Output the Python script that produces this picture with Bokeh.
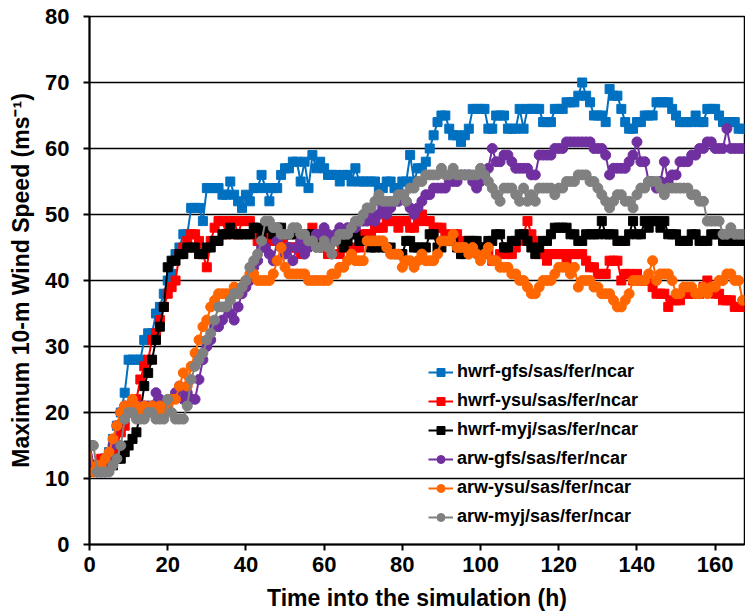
from bokeh.plotting import figure
from bokeh.models import Range1d, FixedTicker, Legend, LegendItem, ColumnDataSource
from bokeh.embed import file_html
from bokeh.resources import INLINE

hours = list(range(168))

hwrf_gfs = [15,12,12,12,13,14,16,18,20,23, 28,28,28,28,31,32,32,35,36,38,
            40,41,44,45,47,47,51,51,51,49, 54,54,54,54,53,53,55,53,52,51,
            53,52,54,54,56,54,52,54,54,56, 57,57,58,58,55,58,54,59,57,58,
            57,56,56,56,55,56,56,55,57,55, 55,55,55,55,54,54,55,55,54,54,
            55,55,59,55,57,57,58,60,62,64, 65,65,63,62,62,61,62,63,66,66,
            66,66,63,63,65,65,65,63,63,63, 66,63,66,66,66,66,64,64,64,66,
            66,66,67,67,67,68,70,68,67,65, 65,65,64,69,68,68,66,64,63,63,
            64,64,65,65,65,67,67,67,67,66, 65,64,64,64,64,65,64,64,66,66,
            66,65,64,64,64,64,63,63]

hwrf_ysu = [15,12,12,13,13,13,14,15,17,18, 20,21,22,25,27,28,31,32,34,36,
            38,39,40,44,45,46,47,47,46,44, 42,46,48,49,49,47,49,49,47,49,
            49,49,47,46,47,47,46,47,46,46, 47,45,45,45,44,46,47,48,47,46,
            45,44,46,46,44,46,45,44,45,45, 47,47,47,48,48,48,49,49,49,48,
            49,49,48,48,49,50,49,49,48,48, 48,47,46,47,47,46,45,46,45,45,
            45,44,44,43,43,44,45,44,44,45, 46,47,49,47,46,44,44,43,44,44,
            44,44,43,44,44,44,44,43,42,42, 41,41,41,43,43,43,40,41,41,40,
            41,40,40,40,39,38,38,38,36,37, 37,37,38,38,38,38,38,39,40,39,
            38,38,37,37,37,36,36,36]

hwrf_myj = [15,11,11,11,11,12,12,13,13,14, 15,16,17,20,24,26,28,31,33,36,
            42,43,43,44,44,45,45,45,44,44, 45,45,46,46,47,47,48,47,47,47,
            47,47,48,48,47,48,48,47,48,48, 47,47,47,47,47,47,46,47,46,47,
            46,46,46,46,46,45,46,47,47,46, 46,46,45,45,46,45,45,45,44,44,
            44,46,46,45,45,45,45,47,47,45, 45,46,46,46,45,44,44,46,46,46,
            45,45,46,46,47,47,45,45,46,46, 47,47,46,45,44,45,46,46,47,48,
            48,48,48,47,47,46,46,47,47,47, 47,49,47,47,47,46,46,46,47,49,
            47,47,49,48,49,49,48,49,47,47, 47,46,46,46,47,47,46,46,46,47,
            47,47,46,46,46,46,46,46]

arw_gfs = [15,12,11,11,11,12,15,18,20,21, 21,20,20,21,21,21,21,23,22,21,
           21,22,23,24,22,23,22,22,25,28, 30,31,33,33,34,36,35,34,36,38,
           39,40,42,43,45,45,44,43,46,45, 44,45,43,45,46,44,45,46,47,47,
           48,47,46,47,48,47,48,48,48,49, 49,49,50,49,50,51,50,51,52,52,
           53,52,51,50,51,52,53,53,54,54, 54,54,55,55,55,56,56,56,55,54,
           55,56,57,60,58,58,59,59,58,57, 57,57,57,56,56,59,59,59,59,60,
           60,60,61,61,61,61,61,61,61,60, 60,60,59,56,57,57,57,57,58,59,
           61,58,58,55,55,54,55,58,55,56, 56,58,58,58,59,59,60,60,61,61,
           60,60,60,63,60,60,60,60]

arw_ysu = [15,11,12,12,13,14,16,18,20,21, 21,22,21,20,21,20,21,20,21,20,
           21,22,22,24,26,24,27,29,31,33, 34,36,37,38,38,38,38,39,38,39,
           40,41,41,40,40,40,40,41,43,45, 42,41,41,41,41,41,40,40,40,40,
           40,40,41,41,42,42,43,44,43,43, 43,46,46,46,46,46,45,44,44,44,
           42,43,43,42,43,44,43,43,43,44, 46,46,46,47,45,45,45,44,45,44,
           43,44,45,43,43,42,42,42,41,41, 40,40,39,38,38,39,40,40,40,41,
           42,42,42,41,42,39,40,40,40,39, 39,38,38,38,37,36,36,37,38,40,
           40,40,40,41,43,40,41,41,41,40, 38,38,39,39,39,38,38,39,38,39,
           39,40,40,41,41,40,40,37]

arw_myj = [15,15,11,11,11,11,12,13,15,19, 20,20,19,19,19,20,20,19,19,19,
           22,20,19,19,19,21,25,27,28,29, 31,32,34,36,36,36,37,38,38,39,
           40,42,43,44,46,49,49,48,48,47, 47,47,48,48,47,47,46,46,45,45,
           46,45,44,46,47,47,47,48,49,49, 50,51,51,52,53,52,52,52,52,53,
           53,52,54,54,55,55,56,56,56,56, 57,56,56,57,56,56,56,56,56,56,
           57,56,55,54,53,52,54,54,54,53, 52,54,52,53,52,54,54,54,54,53,
           54,54,55,55,55,56,56,56,55,55, 54,53,52,51,52,53,53,52,52,51,
           53,54,54,55,55,55,54,53,54,54, 54,54,54,54,53,53,52,52,49,49,
           49,49,47,47,48,47,47,47]

labels = ["hwrf-gfs/sas/fer/ncar", "hwrf-ysu/sas/fer/ncar", "hwrf-myj/sas/fer/ncar",
          "arw-gfs/sas/fer/ncar", "arw-ysu/sas/fer/ncar", "arw-myj/sas/fer/ncar"]
series = [hwrf_gfs, hwrf_ysu, hwrf_myj, arw_gfs, arw_ysu, arw_myj]
colors = ["#0070C0", "#FF0000", "#000000", "#7030A0", "#FF6600", "#808080"]
markers = ["square", "square", "square", "circle", "circle", "circle"]
x_ticks = [0, 20, 40, 60, 80, 100, 120, 140, 160]
y_ticks = [0, 10, 20, 30, 40, 50, 60, 70, 80]

FONT = "Liberation Sans"

p = figure(width=745, height=614, output_backend="svg", toolbar_location=None,
           x_range=Range1d(0, 167.5), y_range=Range1d(0, 80),
           min_border_left=89, min_border_right=1, min_border_top=16, min_border_bottom=70)
p.outline_line_color = "black"
p.outline_line_width = 1.5
p.background_fill_color = "white"
p.border_fill_color = "white"

p.xgrid.grid_line_color = None
p.ygrid.grid_line_color = "black"
p.ygrid.grid_line_width = 1.5
p.ygrid.ticker = FixedTicker(ticks=y_ticks)

for ax, ticks in ((p.xaxis[0], x_ticks), (p.yaxis[0], y_ticks)):
    ax.ticker = FixedTicker(ticks=ticks)
    ax.axis_line_width = 2
    ax.axis_line_color = "black"
    ax.major_tick_line_width = 2
    ax.major_tick_line_color = "black"
    ax.major_tick_out = 6
    ax.major_tick_in = 0
    ax.minor_tick_line_color = None
    ax.major_label_text_font = FONT
    ax.major_label_text_font_style = "bold"
    ax.major_label_text_font_size = "22px"
    ax.major_label_text_color = "black"
    ax.axis_label_text_font = FONT
    ax.axis_label_text_font_style = "bold"
    ax.axis_label_text_color = "black"

p.xaxis.major_label_standoff = 6
p.yaxis.major_label_standoff = 14
p.xaxis.axis_label = "Time into the simulation (h)"
p.xaxis.axis_label_text_font_size = "23px"
p.xaxis.axis_label_standoff = 10
p.yaxis.axis_label = "Maximum 10-m Wind Speed (ms\u207b\u00b9)"
p.yaxis.axis_label_text_font_size = "23px"
p.yaxis.axis_label_standoff = 8

items = []
for lab, ys, col, mk in zip(labels, series, colors, markers):
    src = ColumnDataSource(dict(x=hours, y=ys))
    lr = p.line("x", "y", source=src, line_color=col, line_width=2)
    sz = 9 if mk == "square" else 10
    sr = p.scatter("x", "y", source=src, marker=mk, size=sz,
                   fill_color=col, line_color=col)
    items.append(LegendItem(label=lab, renderers=[lr, sr]))

legend = Legend(items=items, location=(339, 17))
legend.label_text_font = FONT
legend.label_text_font_style = "bold"
legend.label_text_font_size = "18px"
legend.label_text_color = "black"
legend.glyph_width = 25
legend.glyph_height = 20
legend.label_height = 20
legend.label_standoff = 4
legend.spacing = 8
legend.padding = 0
legend.margin = 0
legend.background_fill_alpha = 0
legend.border_line_alpha = 0
p.add_layout(legend)

open("out.html", "w").write(file_html(p, INLINE))
